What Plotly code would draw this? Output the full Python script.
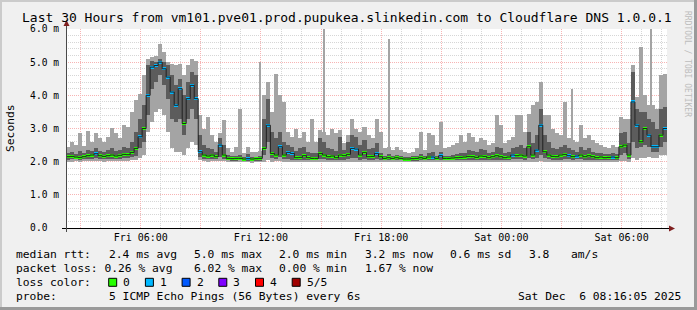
import plotly.graph_objects as go
import pandas as pd
import re

# ---------------- data (ms) : sorted pings per 12-min step ----------------
lo = [2.00,2.00,2.01,2.00,2.01,2.02,2.01,2.02,2.01,2.00,2.01,2.02,2.01,2.02,2.03,2.02,2.04,2.05,2.10,2.20,
      2.90,3.20,3.50,3.60,3.40,2.90,2.40,2.30,2.30,2.20,2.40,2.60,2.50,2.05,2.02,2.00,2.02,2.01,2.02,2.02,
      2.00,1.98,1.98,1.99,1.98,1.98,1.97,1.98,1.98,2.00,2.05,2.00,2.02,2.02,2.00,2.00,2.00,2.00,1.99,2.00,
      2.00,2.00,2.00,2.00,2.00,2.00,2.00,2.00,2.00,2.00,2.00,2.00,2.00,2.00,2.00,2.00,2.00,2.00,2.00,1.99,
      1.99,1.99,1.99,1.99,1.98,1.98,1.98,1.98,1.99,1.99,1.99,1.99,1.99,1.99,1.99,1.99,1.99,1.99,1.99,1.99,
      2.00,2.00,2.00,2.00,2.00,2.00,2.00,2.00,2.00,2.00,2.00,2.00,2.00,2.00,2.00,2.00,2.00,2.00,2.02,2.00,
      2.00,2.00,2.00,2.00,2.00,2.00,2.00,2.00,2.00,2.00,2.00,2.00,2.00,2.00,2.00,2.00,2.00,2.00,2.02,2.03,
      2.00,2.10,2.05,2.10,2.10,2.15,2.10,2.10,2.20,2.20]
q1 = [2.06,2.07,2.07,2.05,2.07,2.08,2.08,2.10,2.08,2.07,2.08,2.09,2.08,2.09,2.10,2.10,2.13,2.18,2.40,2.60,
      3.40,4.20,4.40,4.60,4.30,3.90,3.30,3.20,3.30,2.80,3.30,3.60,3.30,2.15,2.08,2.07,2.08,2.07,2.15,2.08,
      2.04,2.03,2.03,2.04,2.02,2.03,2.02,2.02,2.03,2.20,2.60,2.12,2.08,2.15,2.08,2.07,2.06,2.05,2.05,2.06,
      2.05,2.05,2.05,2.07,2.07,2.05,2.06,2.05,2.06,2.06,2.07,2.10,2.10,2.06,2.07,2.05,2.06,2.08,2.05,2.04,
      2.04,2.04,2.04,2.04,2.03,2.03,2.03,2.03,2.04,2.04,2.05,2.05,2.04,2.05,2.04,2.04,2.04,2.05,2.05,2.05,
      2.05,2.05,2.05,2.06,2.05,2.05,2.05,2.06,2.05,2.05,2.05,2.07,2.07,2.07,2.06,2.10,2.08,2.10,2.20,2.10,
      2.07,2.06,2.05,2.06,2.07,2.07,2.05,2.07,2.07,2.05,2.06,2.05,2.05,2.05,2.05,2.05,2.05,2.05,2.20,2.25,
      2.08,2.60,2.40,2.45,2.50,2.45,2.30,2.30,2.45,2.60]
med = [2.15,2.16,2.14,2.13,2.15,2.18,2.20,2.24,2.18,2.16,2.18,2.20,2.17,2.19,2.22,2.21,2.28,2.40,2.75,3.00,
       4.00,4.85,4.90,5.00,4.80,4.55,4.10,3.70,4.20,3.15,3.90,4.30,3.90,2.30,2.20,2.17,2.20,2.15,2.50,2.20,
       2.10,2.09,2.10,2.10,2.08,2.09,2.08,2.09,2.10,2.40,3.10,2.25,2.20,2.45,2.20,2.28,2.25,2.12,2.13,2.18,
       2.12,2.10,2.10,2.25,2.20,2.15,2.17,2.12,2.20,2.18,2.22,2.40,2.38,2.20,2.28,2.15,2.16,2.25,2.15,2.10,
       2.12,2.10,2.12,2.10,2.08,2.08,2.09,2.10,2.12,2.10,2.14,2.14,2.10,2.18,2.10,2.10,2.11,2.12,2.13,2.14,
       2.16,2.15,2.13,2.17,2.16,2.12,2.15,2.18,2.15,2.12,2.14,2.20,2.18,2.20,2.17,2.45,2.20,2.35,3.10,2.30,
       2.20,2.16,2.15,2.20,2.22,2.18,2.15,2.17,2.20,2.15,2.18,2.15,2.12,2.14,2.12,2.13,2.14,2.12,2.45,2.50,
       2.20,3.80,3.10,2.60,3.00,2.80,2.45,2.45,2.80,3.00]
q3 = [2.25,2.28,2.24,2.32,2.26,2.36,2.32,2.42,2.32,2.28,2.36,2.40,2.32,2.36,2.45,2.42,2.60,2.90,3.30,3.70,
      4.90,5.05,5.00,5.10,5.00,4.90,4.60,4.30,4.50,4.00,4.40,4.70,4.60,2.80,2.50,2.40,2.38,2.28,2.70,2.50,
      2.20,2.16,2.18,2.20,2.14,2.22,2.14,2.15,2.18,3.30,3.90,2.90,2.70,2.90,2.60,2.50,2.45,2.32,2.40,2.45,
      2.28,2.25,2.25,2.70,2.60,2.40,2.38,2.32,2.75,2.34,2.60,2.80,2.75,2.50,2.65,2.38,2.40,2.55,2.26,2.18,
      2.22,2.18,2.20,2.18,2.14,2.15,2.16,2.18,2.22,2.18,2.26,2.28,2.18,2.28,2.18,2.18,2.20,2.22,2.26,2.26,
      2.34,2.32,2.28,2.38,2.34,2.25,2.30,2.45,2.40,2.26,2.30,2.40,2.45,2.50,2.40,2.90,2.55,2.80,3.60,2.80,
      2.60,2.42,2.38,2.45,2.50,2.40,2.34,2.30,2.45,2.34,2.40,2.30,2.26,2.26,2.22,2.22,2.26,2.22,2.85,2.90,
      2.55,4.70,3.60,3.50,3.50,3.30,3.20,3.00,3.60,3.65]
hi = [2.45,2.60,2.50,2.85,2.48,2.92,2.60,2.85,2.70,2.60,2.75,3.02,2.85,2.72,3.10,3.05,3.50,3.85,4.05,4.60,
      5.10,5.15,5.20,5.55,5.30,5.00,4.95,4.90,4.95,4.60,4.90,5.10,5.05,3.40,3.00,3.35,2.80,2.60,2.85,3.25,
      2.40,2.30,2.45,3.60,2.25,2.45,2.30,2.28,2.32,4.00,4.40,3.50,4.65,4.00,3.80,2.90,2.75,3.00,2.70,2.90,
      2.60,3.30,2.60,2.95,2.90,2.80,3.00,2.85,2.95,2.55,2.80,3.30,3.00,2.90,3.05,2.80,2.70,3.30,2.90,2.40,
      2.45,2.35,2.45,2.35,2.30,2.25,2.30,2.40,2.90,2.35,2.85,2.80,2.50,3.20,2.40,2.45,2.50,2.55,2.80,2.60,
      2.85,2.75,2.60,2.70,2.65,2.50,2.55,3.40,3.10,2.55,2.65,2.75,3.40,3.40,2.90,3.45,3.70,3.80,4.40,3.40,
      3.40,3.00,2.85,2.80,3.80,2.70,2.65,2.60,3.10,2.70,2.80,2.65,2.55,2.50,2.45,2.40,2.50,2.45,3.35,3.30,
      3.30,4.90,3.95,5.45,4.00,3.70,3.70,3.60,4.60,4.65]
loss = [0,0,0,0,0,0,0,1,0,0,0,0,0,0,0,0,0,0,1,0,
        1,1,1,1,1,1,1,1,1,0,1,1,1,1,0,0,0,0,1,0,
        0,0,0,0,0,1,0,0,0,0,1,0,0,1,0,1,1,0,0,0,
        0,0,0,0,0,0,0,0,0,0,0,1,1,0,0,0,0,1,0,0,
        0,0,0,0,0,0,0,0,0,0,0,1,0,1,0,0,0,0,0,0,
        0,0,0,0,0,0,0,0,0,0,0,1,0,0,0,0,0,1,1,0,
        0,0,0,0,0,1,0,1,0,0,0,0,0,0,0,0,1,0,0,0,
        0,1,1,0,0,1,1,1,0,1]

# isolated single-sample max spikes (thin lines)
spike_times = ["2025-12-05 11:58", "2025-12-05 15:09", "2025-12-05 18:24",
               "2025-12-06 03:32", "2025-12-06 07:28"]
spike_base = [2.20, 2.20, 2.12, 2.18, 2.45]
spike_top = [5.00, 6.50, 5.70, 4.20, 6.50]

start_time = "2025-12-05 02:16:05"
step_minutes = 12
span_hours = 30

x_tick_times = ["2025-12-05 06:00", "2025-12-05 12:00", "2025-12-05 18:00",
                "2025-12-06 00:00", "2025-12-06 06:00"]
x_tick_labels = ["Fri 06:00", "Fri 12:00", "Fri 18:00", "Sat 00:00", "Sat 06:00"]
y_tick_vals = [0, 1, 2, 3, 4, 5, 6]
y_tick_labels = ["0.0\u00a0\u00a0", "1.0 m", "2.0 m", "3.0 m", "4.0 m", "5.0 m", "6.0 m"]

loss_names = ["0", "1", "2", "3", "4", "5/5"]
loss_colors = ["#26ff00", "#00b8ff", "#0059ff", "#7e00ff", "#ff0000", "#a00000"]

title_text = "Last 30 Hours from vm101.pve01.prod.pupukea.slinkedin.com to Cloudflare DNS 1.0.0.1"
legend_rows = [
    "median rtt:  2.4 ms avg  5.0 ms max  2.0 ms min  3.2 ms now  0.6 ms sd  3.8   am/s",
    "packet loss: 0.26 % avg  6.02 % max  0.00 % min  1.67 % now",
]
probe_label = "probe:"
probe_text = "5 ICMP Echo Pings (56 Bytes) every 6s"
stamp_text = "Sat Dec  6 08:16:05 2025"

# ---------------- geometry / style ----------------
W, H = 697, 310
PL, PR, PT, PB = 66, 667, 29, 228
MONO = "DejaVu Sans Mono"
LIGHT, DARK, MEDLINE = "#a4a4a4", "#5c5c5c", "#202020"
GRID, MGRID = "#d6d6d6", "#f7b4b4"
ARROW = "#7f1f1f"
ADV = 7.12  # legend char advance in px
MED_HALF = 0.045
FS = 11.3

def fx(px):
    return (px - PL) / (PR - PL)

def fy(py):
    return (PB - py) / (PB - PT)

t0 = pd.Timestamp(start_time)
step = pd.Timedelta(minutes=step_minutes)
times = [t0 + step * i for i in range(len(med))]
t_end = t0 + pd.Timedelta(hours=span_hours)
step_ms = step_minutes * 60 * 1000
spike_ms = 4.5 * 60 * 1000

fig = go.Figure()
fig.add_trace(go.Bar(x=times, base=lo, y=[h - l for h, l in zip(hi, lo)],
                     width=step_ms, offset=0, marker=dict(color=LIGHT, line=dict(width=0)),
                     hoverinfo="skip"))
fig.add_trace(go.Bar(x=[pd.Timestamp(s) for s in spike_times], base=spike_base,
                     y=[t - b for t, b in zip(spike_top, spike_base)],
                     width=spike_ms, marker=dict(color=LIGHT, line=dict(width=0)),
                     hoverinfo="skip"))
fig.add_trace(go.Bar(x=times, base=q1, y=[h - l for h, l in zip(q3, q1)],
                     width=step_ms, offset=0, marker=dict(color=DARK, line=dict(width=0)),
                     hoverinfo="skip"))
fig.add_trace(go.Scatter(x=times + [t_end], y=med + [med[-1]], mode="lines",
                         line=dict(color=MEDLINE, width=1, shape="hv"), hoverinfo="skip"))
fig.add_trace(go.Bar(x=times, base=[m - MED_HALF for m in med], y=[2 * MED_HALF] * len(med),
                     width=step_ms, offset=0,
                     marker=dict(color=[loss_colors[l] for l in loss], line=dict(width=0)),
                     hoverinfo="skip"))

# major (3h) grid values, labelled every 6h
grid3 = pd.date_range("2025-12-05 03:00", "2025-12-06 06:00", freq="3h")
tickvals = list(grid3)
ticktext = []
for g in grid3:
    lab = ""
    for tt, tl in zip(x_tick_times, x_tick_labels):
        if pd.Timestamp(tt) == g:
            lab = tl
    ticktext.append(lab)

shapes = []
annotations = []

def rect_px(x0, y0, x1, y1, color):
    shapes.append(dict(type="rect", xref="paper", yref="paper", x0=fx(x0), x1=fx(x1),
                       y0=fy(y1), y1=fy(y0), fillcolor=color, line=dict(width=0), layer="above"))

rect_px(0, 0, W, 2, "#cbcbcb")
rect_px(0, 0, 2, H, "#cbcbcb")
rect_px(0, H - 3, W, H, "#9a9a9a")
rect_px(W - 3, 0, W, H, "#9a9a9a")

# axes
shapes.append(dict(type="line", xref="paper", yref="paper", x0=fx(62), x1=fx(670),
                   y0=fy(228.5), y1=fy(228.5), line=dict(color="#000000", width=1)))
shapes.append(dict(type="line", xref="paper", yref="paper", x0=fx(66.5), x1=fx(66.5),
                   y0=fy(232), y1=fy(24), line=dict(color="#4a4a4a", width=1)))
shapes.append(dict(type="path", xref="paper", yref="paper",
                   path=f"M {fx(66.5)},{fy(20)} L {fx(63.5)},{fy(26)} L {fx(69.5)},{fy(26)} Z",
                   fillcolor=ARROW, line=dict(width=0)))
shapes.append(dict(type="path", xref="paper", yref="paper",
                   path=f"M {fx(675)},{fy(228.5)} L {fx(669)},{fy(225.5)} L {fx(669)},{fy(231.5)} Z",
                   fillcolor=ARROW, line=dict(width=0)))

def text_px(txt, px, py, size, xanchor="left", color="#000000", angle=0):
    annotations.append(dict(text=txt.replace(" ", "\u00a0"), xref="paper", yref="paper",
                            x=fx(px), y=fy(py), xanchor=xanchor, yanchor="middle",
                            showarrow=False, borderpad=0, borderwidth=0, textangle=angle,
                            font=dict(family=MONO, size=size, color=color)))

text_px(title_text, 346.5, 17.8, 13.0, xanchor="center")
text_px("Seconds", 10, 128, FS, xanchor="center", angle=-90)
text_px("RRDTOOL / TOBI OETIKER", 688, 64, 8, xanchor="center", color="#bdbdbd", angle=90)

LEG_X0 = 16
row_y = [254.3, 268.3, 282.3, 296.3]
for r, row in enumerate(legend_rows):
    for m in re.finditer(r"\S+(?: \S+)*", row):
        text_px(m.group(0), LEG_X0 + m.start() * ADV, row_y[r], FS)

text_px("loss color:", LEG_X0, row_y[2], FS)
for k, (nm, col) in enumerate(zip(loss_names, loss_colors)):
    bx = 108.7 + k * 36.7
    shapes.append(dict(type="rect", xref="paper", yref="paper", x0=fx(bx), x1=fx(bx + 8),
                       y0=fy(row_y[2] + 4), y1=fy(row_y[2] - 4), fillcolor=col,
                       line=dict(color="#000000", width=1)))
    text_px(nm, bx + 14.6, row_y[2], FS)

text_px(probe_label, LEG_X0, row_y[3], FS)
text_px(probe_text, LEG_X0 + 13 * ADV, row_y[3], FS)
text_px(stamp_text, 680.5, row_y[3], FS, xanchor="right")

fig.update_layout(
    width=W, height=H, margin=dict(l=PL, r=W - PR, t=PT, b=H - PB),
    paper_bgcolor="#f0f0f0", plot_bgcolor="#ffffff",
    showlegend=False, barmode="overlay", bargap=0,
    shapes=shapes, annotations=annotations,
    xaxis=dict(type="date", range=[t0, t_end], tickmode="array", tickvals=tickvals,
               ticktext=ticktext, showgrid=True, gridcolor=MGRID, griddash="1px,1px",
               gridwidth=1, zeroline=False, showline=False, ticks="",
               ticklabelstandoff=2,
               tickfont=dict(family=MONO, size=10, color="#000000"),
               minor=dict(dtick=3600000, tick0="2025-12-05 00:00:00", showgrid=True,
                          gridcolor=GRID, griddash="1px,1px", gridwidth=1, ticks="")),
    yaxis=dict(range=[0, 6], tickmode="array", tickvals=y_tick_vals, ticktext=y_tick_labels,
               showgrid=True, gridcolor=MGRID, griddash="1px,1px", gridwidth=1,
               zeroline=False, showline=False, ticks="", ticklabelstandoff=6,
               tickfont=dict(family=MONO, size=9.6, color="#000000"),
               minor=dict(dtick=0.2, tick0=0, showgrid=True, gridcolor=GRID,
                          griddash="1px,1px", gridwidth=1, ticks="")),
)

fig.write_html("out.html")
